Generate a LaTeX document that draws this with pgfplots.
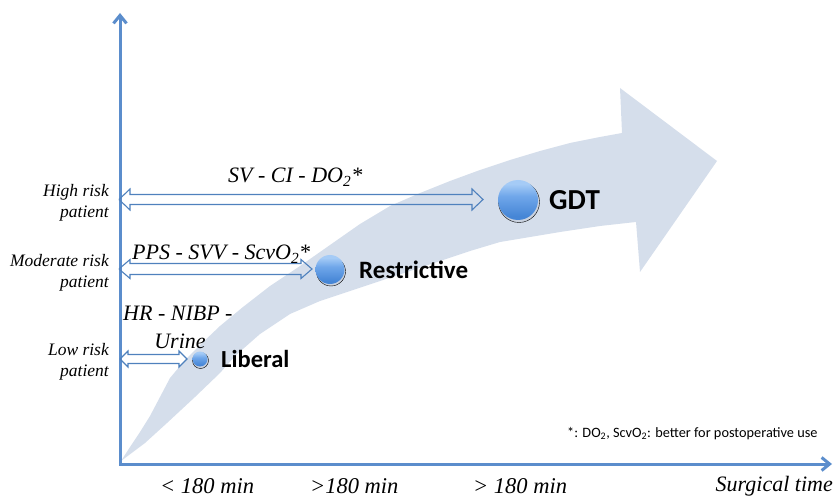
\documentclass[border=0pt]{standalone}
\usepackage{pgfplots}
\pgfplotsset{compat=1.18}
\usepackage{fontspec}
\setmainfont{Liberation Serif}
\newfontfamily\carl{Carlito}
\usetikzlibrary{arrows.meta}
\definecolor{axblue}{RGB}{91,141,204}
\definecolor{arrowfill}{RGB}{213,222,235}
\definecolor{dblblue}{RGB}{79,129,189}
\definecolor{balltop}{RGB}{165,203,246}
\definecolor{ballmid}{RGB}{112,167,234}
\definecolor{ballbot}{RGB}{70,134,214}
\pgfdeclareverticalshading{gballshade}{100bp}{color(0bp)=(ballbot); color(30bp)=(ballbot); color(55bp)=(ballmid); color(70bp)=(balltop); color(100bp)=(balltop)}
\pgfdeclareplotmark{gball}{%
  \pgfpathcircle{\pgfpointorigin}{\pgfplotmarksize}%
  \pgfshadepath{gballshade}{0}%
  \pgfusepath{}%
}
\begin{document}
\begin{tikzpicture}
\begin{axis}[
  width=837pt, height=502pt, scale only axis,
  xmin=0, xmax=837, ymin=0, ymax=502, y dir=reverse,
  hide axis, clip=false,
]
% big curved arrow
\addplot[fill=arrowfill, draw=none] coordinates {
 (121,461) (130,447) (140,432) (150,416) (160,397) (170,378) (185,360) (200,345)
 (220,326) (243,307) (270,286) (300,266) (330,245) (360,224) (390,206) (420,193)
 (450,181) (480,170) (510,160) (540,151) (570,143) (600,137) (622,133)
 (620,88) (717,161) (640,272) (636,222)
 (600,226) (560,232) (530,237) (500,242) (470,251) (440,261) (410,271) (380,281)
 (350,291) (320,301) (290,314) (260,334) (235,356) (220,373) (195,397) (167,423) (145,443) (121,461)
} -- cycle;
% axes
\addplot[axblue, line width=3pt, -{Straight Barb[length=8pt,width=13pt]}] coordinates {(120,465) (120,13)};
\addplot[axblue, line width=3pt, -{Straight Barb[length=8pt,width=13pt]}] coordinates {(119,464) (832,464)};
% double arrows
\addplot[dblblue, line width=1.1pt] coordinates {
 (119,199.5) (130,189) (130,194.5) (472,194.5) (472,189) (483,199.5) (472,210) (472,204.5) (130,204.5) (130,210) (119,199.5)};
\addplot[dblblue, line width=1.1pt] coordinates {
 (119,269) (130,259.5) (130,263.5) (301,263.5) (301,259.5) (312,269) (301,278.5) (301,274.5) (130,274.5) (130,278.5) (119,269)};
\addplot[dblblue, line width=1.1pt] coordinates {
 (120,359) (128,351) (128,354.5) (179,354.5) (179,351) (187,359) (179,367) (179,363.5) (128,363.5) (128,367) (120,359)};
% circle shadows
\addplot[only marks, mark=*, mark size=20.5pt, mark options={draw=none, fill=black, fill opacity=0.05}] coordinates {(519,202)};
\addplot[only marks, mark=*, mark size=14.5pt, mark options={draw=none, fill=black, fill opacity=0.05}] coordinates {(331,271.5)};
\addplot[only marks, mark=*, mark size=8pt, mark options={draw=none, fill=black, fill opacity=0.05}] coordinates {(200.5,360.5)};
% circles
\addplot[only marks, mark=gball, mark size=20pt] coordinates {(518,200)};
\addplot[only marks, mark=gball, mark size=14.5pt] coordinates {(330,269.5)};
\addplot[only marks, mark=gball, mark size=7.5pt] coordinates {(200,359)};
% texts
\node[anchor=base west, inner sep=0, font=\fontsize{22}{26}\selectfont\itshape] at (axis cs:228,183) {SV - CI - DO\textsubscript{2}*};
\node[anchor=base west, inner sep=0, font=\fontsize{22}{26}\selectfont\itshape] at (axis cs:132,260) {PPS - SVV - ScvO\textsubscript{2}*};
\node[anchor=base west, inner sep=0, font=\fontsize{22}{26}\selectfont\itshape] at (axis cs:123,320) {HR - NIBP -};
\node[anchor=base, inner sep=0, font=\fontsize{22}{26}\selectfont\itshape] at (axis cs:180,348) {Urine};
\node[anchor=base west, inner sep=0, font=\carl\bfseries\fontsize{29}{33}\selectfont] at (axis cs:549,210) {GDT};
\node[anchor=base west, inner sep=0, font=\carl\bfseries\fontsize{25}{29}\selectfont] at (axis cs:359,279) {Restrictive};
\node[anchor=base west, inner sep=0, font=\carl\bfseries\fontsize{24.5}{28}\selectfont] at (axis cs:221,367) {Liberal};
\node[anchor=east, align=right, inner sep=0, font=\fontsize{17.5}{20.5}\selectfont\itshape] at (axis cs:109,203) {High risk\\patient};
\node[anchor=east, align=right, inner sep=0, font=\fontsize{17.5}{20.5}\selectfont\itshape] at (axis cs:109,273) {Moderate risk\\patient};
\node[anchor=east, align=right, inner sep=0, font=\fontsize{17.5}{20.5}\selectfont\itshape] at (axis cs:109,362) {Low risk\\patient};
\node[anchor=base west, inner sep=0, font=\fontsize{22.5}{26}\selectfont\itshape] at (axis cs:160,493) {< 180 min};
\node[anchor=base west, inner sep=0, font=\fontsize{22.5}{26}\selectfont\itshape] at (axis cs:310,493) {>180 min};
\node[anchor=base west, inner sep=0, font=\fontsize{22.5}{26}\selectfont\itshape] at (axis cs:473,493) {> 180 min};
\node[anchor=base east, inner sep=0, font=\fontsize{22}{26}\selectfont\itshape] at (axis cs:833,491) {Surgical time};
\node[anchor=base west, inner sep=0, font=\carl\fontsize{14.3}{17}\selectfont] at (axis cs:567,437) {*: DO\textsubscript{2}, ScvO\textsubscript{2}: better for postoperative use};
\end{axis}
\pgfresetboundingbox
\path (current axis.south west) rectangle (current axis.north east);
\end{tikzpicture}
\end{document}
